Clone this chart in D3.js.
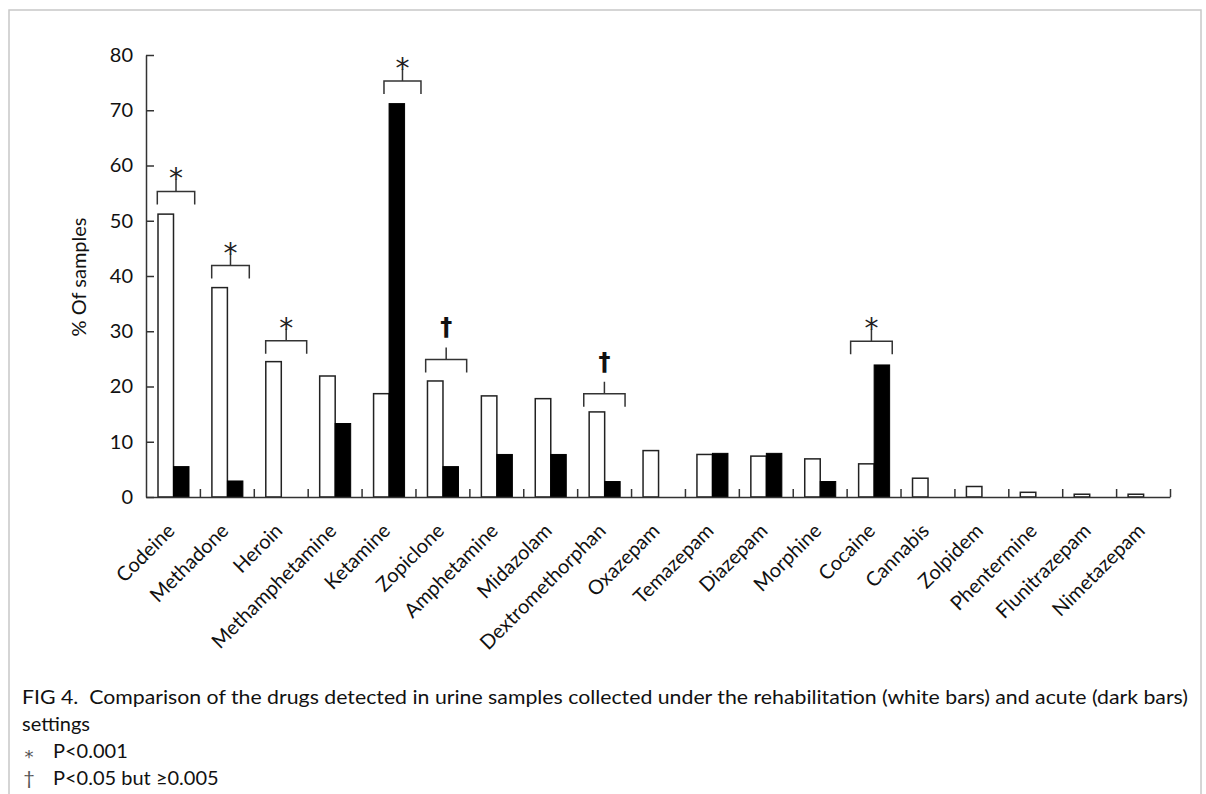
<!DOCTYPE html>
<html>
<head>
<meta charset="utf-8">
<script src="https://cdn.jsdelivr.net/npm/d3@7"></script>
<style>
  body { margin: 0; background: #fff; }
  svg { font-family: Lato, "Open Sans", sans-serif; }
</style>
</head>
<body>
<div id="chart"></div>
<script>
// drugs detected, % of samples
const drugs = ["Codeine", "Methadone", "Heroin", "Methamphetamine", "Ketamine", "Zopiclone",
  "Amphetamine", "Midazolam", "Dextromethorphan", "Oxazepam", "Temazepam", "Diazepam",
  "Morphine", "Cocaine", "Cannabis", "Zolpidem", "Phentermine", "Flunitrazepam", "Nimetazepam"];
const rehabValues = [51.2, 37.9, 24.5, 21.9, 18.7, 21.0, 18.3, 17.8, 15.4, 8.4, 7.7, 7.4,
  6.9, 6.0, 3.4, 1.9, 0.85, 0.5, 0.5];
const acuteValues = [5.5, 2.9, 0, 13.3, 71.2, 5.5, 7.7, 7.7, 2.8, 0, 7.9, 7.9,
  2.8, 23.9, 0, 0, 0, 0, 0];
const yTicks = [0, 10, 20, 30, 40, 50, 60, 70, 80];

// significance markers
const sigDrugs = ["Codeine", "Methadone", "Heroin", "Ketamine", "Zopiclone", "Dextromethorphan", "Cocaine"];
const sigSymbols = ["*", "*", "*", "*", "\u2020", "\u2020", "*"];
const sigLevels = [55.3, 41.9, 28.3, 75.3, 24.9, 18.7, 28.2];

const captionLines = [
  "FIG 4.  Comparison of the drugs detected in urine samples collected under the rehabilitation (white bars) and acute (dark bars)",
  "settings"
];
const footSymbols = ["*", "\u2020"];
const footTexts = ["P<0.001", "P<0.05 but \u22650.005"];

// bracket extents inside each band (px)
const bracketSpan = [[11.3, 48.7], [11.8, 49.4], [11.9, 52.9], [22.4, 59.4], [10.2, 51.2], [6.6, 47.9], [4, 45.6]];

const W = 1206, H = 794;
const margin = { left: 146, right: 36, top: 55, bottom: 297 };
const axisColor = "#333";

const svg = d3.select("#chart").append("svg")
  .attr("width", W).attr("height", H);

// frame
svg.append("rect")
  .attr("x", 9).attr("y", 10)
  .attr("width", 1192).attr("height", 820)
  .attr("fill", "none").attr("stroke", "#c8c8c8").attr("stroke-width", 1.5);

const x = d3.scaleBand().domain(drugs).range([margin.left, W - margin.right]).padding(0);
const sub = d3.scaleBand().domain(["rehab", "acute"]).range([12, 43]);
const y = d3.scaleLinear().domain([0, 80]).range([H - margin.bottom, margin.top]);

const g = svg.append("g");

// y axis (ticks point inward)
const yAxisG = g.append("g")
  .attr("transform", `translate(${margin.left},0)`)
  .call(d3.axisLeft(y).tickValues(yTicks).tickSizeInner(-8).tickSizeOuter(0).tickPadding(13));
yAxisG.select(".domain").attr("stroke", axisColor).attr("stroke-width", 1.5);
yAxisG.selectAll(".tick line").attr("stroke", axisColor).attr("stroke-width", 1.5);
yAxisG.selectAll(".tick text").attr("font-size", 20).attr("fill", "#111")
  .attr("font-family", "Lato, sans-serif");

// y title
svg.append("text")
  .attr("transform", `translate(86,277) rotate(-90)`)
  .attr("text-anchor", "middle")
  .attr("font-size", 20)
  .attr("fill", "#111")
  .text("% Of samples");

// bars
const bars = g.append("g");
drugs.forEach((d, i) => {
  const x0 = x(d);
  bars.append("rect")
    .attr("x", x0 + sub("rehab"))
    .attr("y", y(rehabValues[i]))
    .attr("width", sub.bandwidth())
    .attr("height", y(0) - y(rehabValues[i]))
    .attr("fill", "#fff")
    .attr("stroke", "#222")
    .attr("stroke-width", 1.5);
  if (acuteValues[i] > 0) {
    bars.append("rect")
      .attr("x", x0 + sub("acute"))
      .attr("y", y(acuteValues[i]))
      .attr("width", sub.bandwidth())
      .attr("height", y(0) - y(acuteValues[i]))
      .attr("fill", "#000")
      .attr("stroke", "#000")
      .attr("stroke-width", 1);
  }
});

// x axis: separators between categories
const sep = d3.scaleLinear().domain([0, drugs.length]).range(x.range());
const sepAxis = g.append("g")
  .attr("transform", `translate(0,${y(0)})`)
  .call(d3.axisBottom(sep).tickValues(d3.range(1, drugs.length + 1)).tickSizeInner(-8).tickSizeOuter(0).tickFormat(""));
sepAxis.select(".domain").attr("stroke", axisColor).attr("stroke-width", 1.5);
sepAxis.selectAll(".tick line").attr("stroke", axisColor).attr("stroke-width", 1.5);

// x labels
const xAxisG = g.append("g")
  .attr("transform", `translate(0,${y(0)})`)
  .call(d3.axisBottom(x).tickSize(0));
xAxisG.select(".domain").remove();
xAxisG.selectAll(".tick text")
  .attr("x", 0).attr("y", 0).attr("dy", 0)
  .attr("transform", "translate(3,35) rotate(-45)")
  .attr("text-anchor", "end")
  .attr("font-size", 20)
  .attr("fill", "#111")
  .attr("font-family", "Lato, sans-serif");

// significance brackets
const sig = g.append("g").attr("fill", "none").attr("stroke", axisColor).attr("stroke-width", 1.5);
sigDrugs.forEach((d, i) => {
  const x1 = x(d) + bracketSpan[i][0];
  const x2 = x(d) + bracketSpan[i][1];
  const yb = y(sigLevels[i]);
  const xm = (x1 + x2) / 2;
  sig.append("path")
    .attr("d", `M${x1},${yb + 13}V${yb}H${x2}V${yb + 13}M${xm},${yb}V${yb - 12}`);
  if (sigSymbols[i] === "*") {
    g.append("text")
      .attr("x", xm).attr("y", yb - 12 + 9)
      .attr("text-anchor", "middle")
      .attr("font-family", "DejaVu Sans, sans-serif")
      .attr("font-size", 28)
      .attr("fill", "#222")
      .text("*");
  } else {
    g.append("text")
      .attr("x", xm).attr("y", yb - 12 - 12)
      .attr("text-anchor", "middle")
      .attr("font-family", "DejaVu Sans, sans-serif")
      .attr("font-weight", "bold")
      .attr("font-size", 24)
      .attr("fill", "#111")
      .text("\u2020");
  }
});

// caption
const cap = svg.append("g").attr("font-size", 20).attr("fill", "#111");
captionLines.forEach((t, i) => {
  cap.append("text")
    .attr("x", 22).attr("y", 704 + i * 27)
    .attr("textLength", i === 0 ? 1166 : null)
    .attr("lengthAdjust", "spacingAndGlyphs")
    .style("white-space", "pre")
    .text(t);
});
footSymbols.forEach((s, i) => {
  cap.append("text")
    .attr("x", 29).attr("y", (s === "*" ? 763 : 758) + i * 27)
    .attr("text-anchor", "middle")
    .attr("font-family", s === "*" ? "DejaVu Sans, sans-serif" : null)
    .attr("font-size", s === "*" ? 18 : 20)
    .attr("fill", "#555")
    .text(s);
  cap.append("text")
    .attr("x", 53).attr("y", 758 + i * 27)
    .text(footTexts[i]);
});
</script>
</body>
</html>
